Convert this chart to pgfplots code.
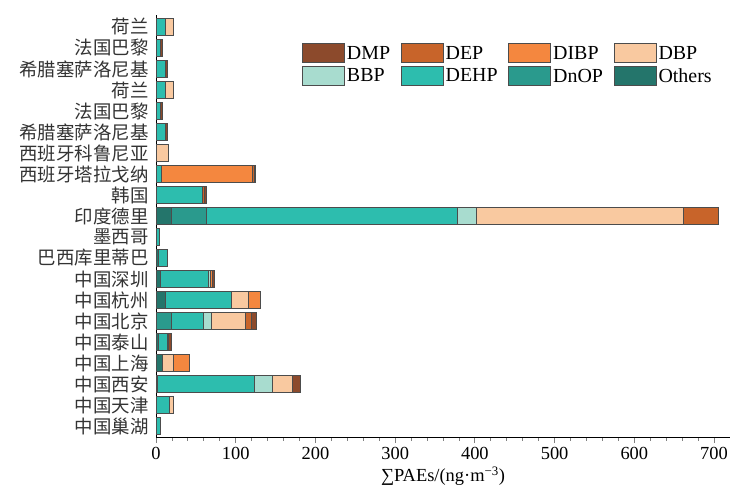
\documentclass[border=0pt]{standalone}
\usepackage{pgfplots}
\pgfplotsset{compat=1.18}
\usepackage{pgfplotstable}
\usepackage{fontspec}
\setmainfont{Liberation Serif}
\newfontfamily\cjk{Noto Sans CJK SC}
\definecolor{cDMP}{RGB}{140,74,44}
\definecolor{cDEP}{RGB}{200,100,42}
\definecolor{cDIBP}{RGB}{244,135,63}
\definecolor{cDBP}{RGB}{249,201,160}
\definecolor{cBBP}{RGB}{168,220,207}
\definecolor{cDEHP}{RGB}{45,189,174}
\definecolor{cDnOP}{RGB}{42,154,141}
\definecolor{cOthers}{RGB}{36,117,107}
\pgfplotstableread{
idx Others DnOP DEHP BBP DBP DIBP DEP DMP
0  0    0    5.9   0    0     0    0   0
1  0    0    16.7  0    5     0    0   0
2  2    0    121.8 22.6 24.7  0    0   9.6
3  8.4  0    0     0    13.4  19.7 0   0
4  2.5  0    11.7  0    0     0    1.5 4
5  0    19.7 39    10   43.5  0    6.7 6.7
6  12   0    83    0    21    14.6 0   0
7  5.4  0    60    2.5  0     3    0   2.5
8  3    0    11    0    0     0    0   0
9  0    0    3.5   0    0     0    0   0
10 18.8 44.8 314   24   259.5 0    44  0
11 0    0    58.6  0    0     0    1.5 2.5
12 0    0    7     0    0     114  2   2
13 0    0    0     0    15    0    0   0
14 0    0    12    0    0     0    0   1.5
15 0    0    5     0    0     0    0   3
16 0    0    11    0    11    0    0   0
17 0    0    12    0    0     0    0   1.5
18 0    0    5     0    0     0    0   3
19 0    0    11    0    11    0    0   0
}\datatable
\begin{document}
\begin{tikzpicture}
\useasboundingbox (0,0) rectangle (731bp,487bp);
\begin{axis}[
  at={(156bp,50bp)}, anchor=south west,
  width=574bp, height=422bp, scale only axis,
  xbar stacked, bar width=17bp,
  xmin=0, xmax=720, ymin=-0.52, ymax=19.57,
  axis x line*=bottom, axis y line*=left,
  axis line style={-, line width=0.9bp},
  xtick={0,100,...,700}, minor x tick num=4,
  tick align=outside, major tick length=6bp, minor tick length=3.5bp,
  xtick style={line width=0.8bp},
  ytick={0,...,19},
  yticklabels={{中国巢湖},{中国天津},{中国西安},{中国上海},{中国泰山},{中国北京},{中国杭州},{中国深圳},{巴西库里蒂巴},{墨西哥},{印度德里},{韩国},{西班牙塔拉戈纳},{西班牙科鲁尼亚},{希腊塞萨洛尼基},{法国巴黎},{荷兰},{希腊塞萨洛尼基},{法国巴黎},{荷兰}},
  ytick style={draw=none},
  yticklabel style={font=\cjk\fontsize{18.5}{19}\selectfont, text=black!80, xshift=2bp},
  xticklabel style={font=\fontsize{18.5}{20}\selectfont, yshift=-1bp},
  /pgf/number format/assume math mode=true,
  xlabel={∑PAEs/(ng·m\textsuperscript{−3})},
  xlabel style={font=\fontsize{18.5}{20}\selectfont, yshift=0bp},
  every axis plot/.append style={draw=black!70, line width=0.5bp},
  reverse legend,
  legend columns=4,
  legend image code/.code={\draw[#1] (0bp,-9.5bp) rectangle (42bp,9.5bp);},
  legend style={draw=none, fill=none, at={(0.254,0.933)}, anchor=north west,
    font=\fontsize{20}{22}\selectfont, inner sep=0pt, row sep=3bp,
    /tikz/every even column/.append style={column sep=8bp},
    nodes={inner sep=2.5bp}},
  legend cell align=left,
]
\addplot[fill=cOthers] table[x=Others,y=idx]{\datatable};
\addplot[fill=cDnOP] table[x=DnOP,y=idx]{\datatable};
\addplot[fill=cDEHP] table[x=DEHP,y=idx]{\datatable};
\addplot[fill=cBBP] table[x=BBP,y=idx]{\datatable};
\addplot[fill=cDBP] table[x=DBP,y=idx]{\datatable};
\addplot[fill=cDIBP] table[x=DIBP,y=idx]{\datatable};
\addplot[fill=cDEP] table[x=DEP,y=idx]{\datatable};
\addplot[fill=cDMP] table[x=DMP,y=idx]{\datatable};
\legend{Others,DnOP,DEHP,BBP,DBP,DIBP,DEP,DMP}
\end{axis}
\end{tikzpicture}
\end{document}
